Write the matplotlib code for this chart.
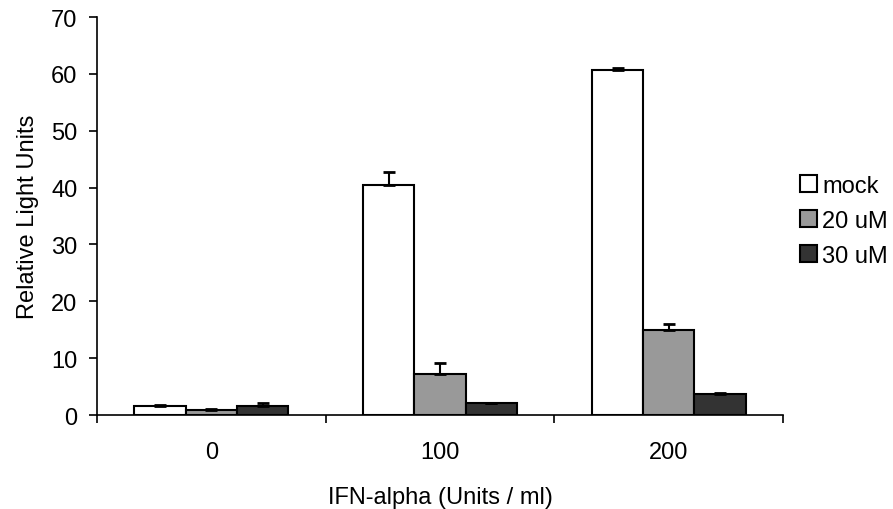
import matplotlib
matplotlib.use("Agg")
import matplotlib.pyplot as plt
import numpy as np
from matplotlib.patches import Patch

plt.rcParams['font.family'] = ['Liberation Sans', 'DejaVu Sans']

categories = ["0", "100", "200"]
series_names = ["mock", "20 uM", "30 uM"]
mock = [1.6, 40.4, 60.7]
mock_err = [0.2, 2.3, 0.4]
um20 = [0.9, 7.2, 15.0]
um20_err = [0.15, 1.9, 1.0]
um30 = [1.6, 2.1, 3.7]
um30_err = [0.5, 0.0, 0.2]
colors = ["#ffffff", "#999999", "#333333"]

FS = 17

fig = plt.figure(figsize=(8.93, 5.10), dpi=100)
ax = fig.add_axes([0.1086, 0.1843, 0.7684, 0.7804])

x = np.arange(len(categories))
w = 0.224
for i, (vals, errs) in enumerate([(mock, mock_err), (um20, um20_err), (um30, um30_err)]):
    pos = x + (i - 1) * w
    ax.bar(pos, vals, width=w, color=colors[i], edgecolor="black", linewidth=1.5, zorder=2)
    ax.errorbar(pos, vals, yerr=[np.zeros(len(vals)), errs], fmt="none", ecolor="black",
                elinewidth=1.5, capsize=4, capthick=2, zorder=3)

ax.set_xlim(-0.5, 2.5)
ax.set_ylim(0, 70)
ax.set_yticks(range(0, 71, 10))
ax.set_xticks(x)
ax.set_xticklabels(categories, fontsize=FS)
ax.set_xticks([-0.5, 0.5, 1.5, 2.5], minor=True)
ax.tick_params(axis="x", which="major", length=0, pad=19)
ax.tick_params(axis="x", which="minor", length=6, width=1.2, direction="out")
ax.tick_params(axis="y", length=6, width=1.2, direction="out", labelsize=FS, pad=8)
for s in ["top", "right"]:
    ax.spines[s].set_visible(False)
for s in ["left", "bottom"]:
    ax.spines[s].set_linewidth(1.2)

ax.set_xlabel("IFN-alpha (Units / ml)", fontsize=FS, labelpad=16)
ax.set_ylabel("Relative Light Units", fontsize=FS, labelpad=9)

handles = [Patch(facecolor=c, edgecolor="black", linewidth=1.5) for c in colors]
fig.legend(handles, series_names, loc="upper left", bbox_to_anchor=(0.877, 0.688),
           frameon=False, fontsize=FS, handlelength=0.75, handleheight=0.75,
           handletextpad=0.2, labelspacing=0.55, borderpad=0.2)

fig.savefig("out.png", dpi=100)
